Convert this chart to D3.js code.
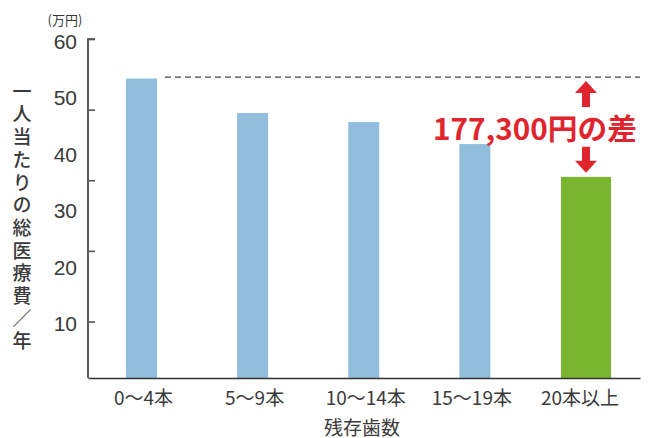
<!DOCTYPE html>
<html><head><meta charset="utf-8">
<script src="https://cdn.jsdelivr.net/npm/d3@7"></script>
<style>html,body{margin:0;padding:0;background:#fff;}svg{display:block;}</style>
</head><body>
<script>
const categories = ["0〜4本", "5〜9本", "10〜14本", "15〜19本", "20本以上"];
const values = [53.0, 46.9, 45.3, 41.4, 35.6];
const tickLabels = [10, 20, 30, 40, 50, 60];
const tickMarks = [10, 22.5, 35, 47.5, 60];
const unitLabel = "(万円)";
const yTitle = "一人当たりの総医療費／年";
const xTitle = "残存歯数";
const diffLabel = "177,300円の差";

const W = 656, H = 438;
const svg = d3.select("body").append("svg").attr("width", W).attr("height", H);
const y = d3.scaleLinear().domain([0, 60]).range([378, 39]);
const x = d3.scalePoint().domain(categories).range([141.5, 586]);
const font = "'Noto Sans CJK JP', 'Noto Sans', sans-serif";
const txt = "#3a3a3a";

// bars
svg.selectAll("rect.bar").data(values).enter().append("rect")
  .attr("class", "bar")
  .attr("x", (d, i) => x(categories[i]) - (i === 4 ? 25 : 15.5))
  .attr("width", (d, i) => i === 4 ? 50 : 31)
  .attr("y", d => y(d))
  .attr("height", d => y(0) - y(d))
  .attr("fill", (d, i) => i === 4 ? "#7ab52f" : "#92bedd");

// y axis
const yAxis = d3.axisRight(y).tickValues(tickMarks).tickSize(7).tickFormat("");
const gy = svg.append("g").attr("transform", "translate(88,0)").call(yAxis);
gy.select(".domain").attr("d", `M7,${y(60)}H0V${y(0)}`).attr("stroke", "#333").attr("stroke-width", 1.6);
gy.selectAll(".tick line").attr("stroke", "#555").attr("stroke-width", 1.6);

// y tick labels
svg.selectAll("text.yl").data(tickLabels).enter().append("text")
  .attr("class", "yl").attr("x", 77).attr("y", d => y(d) + 2)
  .attr("text-anchor", "end").attr("dominant-baseline", "central")
  .attr("font-family", "'Liberation Sans', Arial, sans-serif").attr("font-size", 21)
  .attr("fill", txt).text(d => d);

// x axis baseline
const gx = svg.append("g").attr("transform", `translate(0,${y(0)})`)
  .call(d3.axisBottom(d3.scaleLinear().domain([0, 1]).range([88, 640])).tickValues([]).tickSizeOuter(0));
gx.select(".domain").attr("stroke", "#333").attr("stroke-width", 1.6);

// category labels
svg.selectAll("text.xl").data(categories).enter().append("text")
  .attr("class", "xl").attr("x", (d, i) => x(d) + (i === 4 ? -6 : (i === 3 ? -3 : 2))).attr("y", 396)
  .attr("text-anchor", "middle").attr("dominant-baseline", "central")
  .attr("font-family", font).attr("font-size", 19).attr("fill", txt).text(d => d);

// x title
svg.append("text").attr("x", 362).attr("y", 426).attr("text-anchor", "middle")
  .attr("dominant-baseline", "central").attr("font-family", font).attr("font-size", 19)
  .attr("fill", txt).text(xTitle);

// unit label
svg.append("text").attr("x", 65).attr("y", 19).attr("text-anchor", "middle")
  .attr("dominant-baseline", "central").attr("font-family", font).attr("font-size", 13)
  .attr("fill", txt).text(unitLabel);

// y title vertical (single text, vertical writing mode)
svg.append("text").attr("x", 22).attr("y", 82)
  .style("writing-mode", "vertical-rl").style("text-orientation", "upright")
  .attr("font-family", font).attr("font-size", 19).attr("font-weight", 500)
  .attr("letter-spacing", 3.7).attr("fill", txt).text(yTitle);

// dashed reference line
const refY = y(values[0]) - 1.5;
svg.append("line").attr("x1", 165).attr("x2", 640).attr("y1", refY).attr("y2", refY)
  .attr("stroke", "#444").attr("stroke-width", 1.3).attr("stroke-dasharray", "6,4");

// arrows
const ax = x(categories[4]);
const red = "#e0252e";
function arrow(tipY, dir) { // dir -1 up, +1 down
  const hh = 12, hw = 11, sw = 4, len = 26;
  const b = tipY - dir * len, h = tipY - dir * hh;
  return `M${ax},${tipY}L${ax + hw},${h}L${ax + sw},${h}L${ax + sw},${b}L${ax - sw},${b}L${ax - sw},${h}L${ax - hw},${h}Z`;
}
svg.append("path").attr("d", arrow(refY + 4, -1)).attr("fill", red);
svg.append("path").attr("d", arrow(y(values[4]) - 4, 1)).attr("fill", red);

// difference label
svg.append("text").attr("x", 535).attr("y", 127).attr("text-anchor", "middle")
  .attr("dominant-baseline", "central").attr("font-family", font).attr("font-weight", 700)
  .attr("font-size", 29).attr("fill", red).attr("textLength", 204).attr("lengthAdjust", "spacingAndGlyphs")
  .text(diffLabel);
</script>
</body></html>
